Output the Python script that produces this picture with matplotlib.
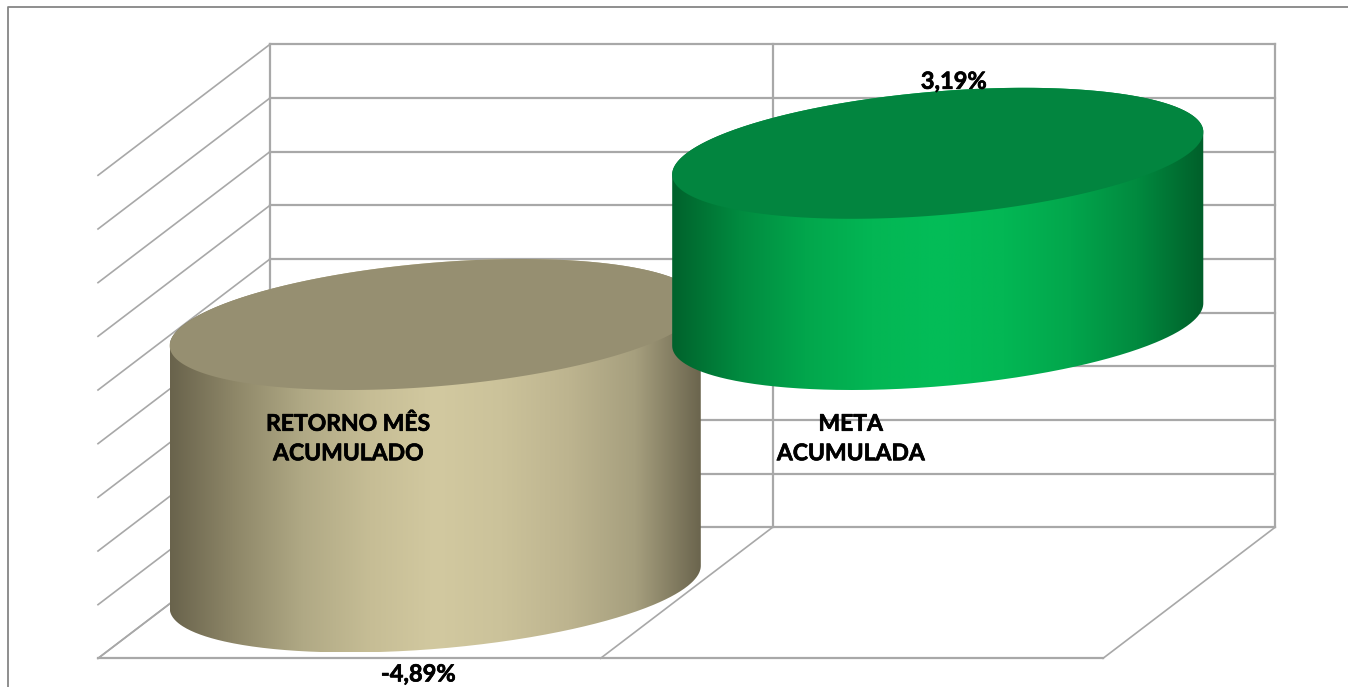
import numpy as np
from matplotlib import patheffects, pyplot as plt
from matplotlib.colors import LinearSegmentedColormap
from matplotlib.patches import PathPatch
from matplotlib.path import Path

# chart data
categories = ['RETORNO MÊS\nACUMULADO', 'META\nACUMULADA']
values = [-4.89, 3.19]
value_labels = ['-4,89%', '3,19%']
grid_levels = [-5, -4, -3, -2, -1, 0, 1, 2, 3, 4]

# oblique projection of the 3d box, in pixels of the output picture
BACK_LEFT = 270.0
BACK_RIGHT = 1275.0
Y_ZERO = 259.0
PX_PER_UNIT = 53.67
DEPTH_X = -172.0
DEPTH_Y = 131.0

GRID = '#a8a8a8'
TAN = ['#69634c', '#8f8869', '#b0a985', '#c6bd95', '#d2c9a0', '#cbc29a', '#bdb48f', '#a69f7e', '#6a644d']
TAN_TOP = '#968f71'
GREEN = ['#00622c', '#018a3f', '#02a64c', '#03b654', '#03bd58', '#03b754', '#02a64c', '#018a3f', '#005f2a']
GREEN_TOP = '#02853f'

plt.rcParams['font.family'] = ['Lato', 'DejaVu Sans']
THICKEN = [patheffects.withStroke(linewidth=0.5, foreground='black')]


def project(cat, depth, value):
    """cat in 0..n along the width, depth 0 (front) .. 1 (back)"""
    x = BACK_LEFT + (BACK_RIGHT - BACK_LEFT) * cat / len(categories) + DEPTH_X * (1 - depth)
    y = Y_ZERO - PX_PER_UNIT * value + DEPTH_Y * (1 - depth)
    return x, y


def ellipse(i, value, t):
    return project(i + 0.5 + 0.5 * np.cos(t), 0.5 + 0.5 * np.sin(t), value)


def draw_cylinder(ax, i, value, stops, top_color, zorder):
    low, high = sorted([0, value])
    t = np.linspace(0, 2 * np.pi, 721)
    x, _ = ellipse(i, 0, t)
    t_left = t[np.argmin(x)]
    t_right = t[np.argmax(x)]

    # lower arc of the base, then upper arc of the top
    t_low = np.linspace(t_left, t_right + 2 * np.pi if t_right < t_left else t_right, 300)
    t_up = np.linspace(t_right, t_left, 300)
    xs = np.concatenate([ellipse(i, low, t_low)[0], ellipse(i, high, t_up)[0]])
    ys = np.concatenate([ellipse(i, low, t_low)[1], ellipse(i, high, t_up)[1]])
    verts = np.column_stack([xs, ys])
    clip = PathPatch(Path(verts), transform=ax.transData, fc='none', ec='none')
    ax.add_patch(clip)

    cmap = LinearSegmentedColormap.from_list('side', stops, N=512)
    img = ax.imshow(np.linspace(0, 1, 512)[None, :], cmap=cmap, aspect='auto', zorder=zorder,
                    extent=(xs.min(), xs.max(), ys.max(), ys.min()), interpolation='bilinear')
    img.set_clip_path(clip)

    tx, ty = ellipse(i, high, t)
    ax.fill(tx, ty, color=top_color, lw=0, zorder=zorder + 0.1)


fig = plt.figure(figsize=(13.48, 6.87), dpi=100)
ax = fig.add_axes([0, 0, 1, 1])
ax.set_xlim(0, 1348)
ax.set_ylim(687, 0)
ax.axis('off')

# outer frame, only top and left show
ax.plot([8, 8, 1348], [687, 7, 7], color='#868686', lw=1.3, zorder=1)

# walls and floor
for level in grid_levels:
    x0, y0 = project(0, 1, level)
    x1, y1 = project(2, 1, level)
    x2, y2 = project(0, 0, level)
    ax.plot([x0, x1], [y0, y1], color=GRID, lw=1.6, zorder=2)
    ax.plot([x0, x2], [y0, y2], color=GRID, lw=1.2, zorder=2)
for c in range(len(categories) + 1):
    xb, yb = project(c, 1, grid_levels[0])
    xt, yt = project(c, 1, grid_levels[-1])
    xf, yf = project(c, 0, grid_levels[0])
    ax.plot([xb, xt], [yb, yt], color=GRID, lw=1.6, zorder=2)
    ax.plot([xb, xf], [yb, yf], color=GRID, lw=1.2, zorder=2)
xf0, yf0 = project(0, 0, grid_levels[0])
xf1, yf1 = project(2, 0, grid_levels[0])
ax.plot([xf0, xf1], [yf0, yf1], color=GRID, lw=1.6, zorder=2)

draw_cylinder(ax, 0, values[0], TAN, TAN_TOP, 3)
draw_cylinder(ax, 1, values[1], GREEN, GREEN_TOP, 4)

# value labels sit past the far end of each cylinder
x, y = project(0.5, 0.5, values[0])
ax.text(x - 17, y + 87, value_labels[0], ha='center', va='center', fontsize=17, fontweight='bold',
        color='black', zorder=6, path_effects=THICKEN)
x, y = project(1.5, 0.5, values[1])
ax.text(x + 16, y - 72, value_labels[1], ha='center', va='center', fontsize=17, fontweight='bold',
        color='black', zorder=6, path_effects=THICKEN)

# category labels
for i, name in enumerate(categories):
    x, _ = project(i + 0.5, 0, 0)
    ax.text(x - 1, 439, name, ha='center', va='center', fontsize=16.5, fontweight='bold',
            color='black', linespacing=1.5, zorder=6, path_effects=THICKEN)

fig.savefig('out.png', dpi=100)
